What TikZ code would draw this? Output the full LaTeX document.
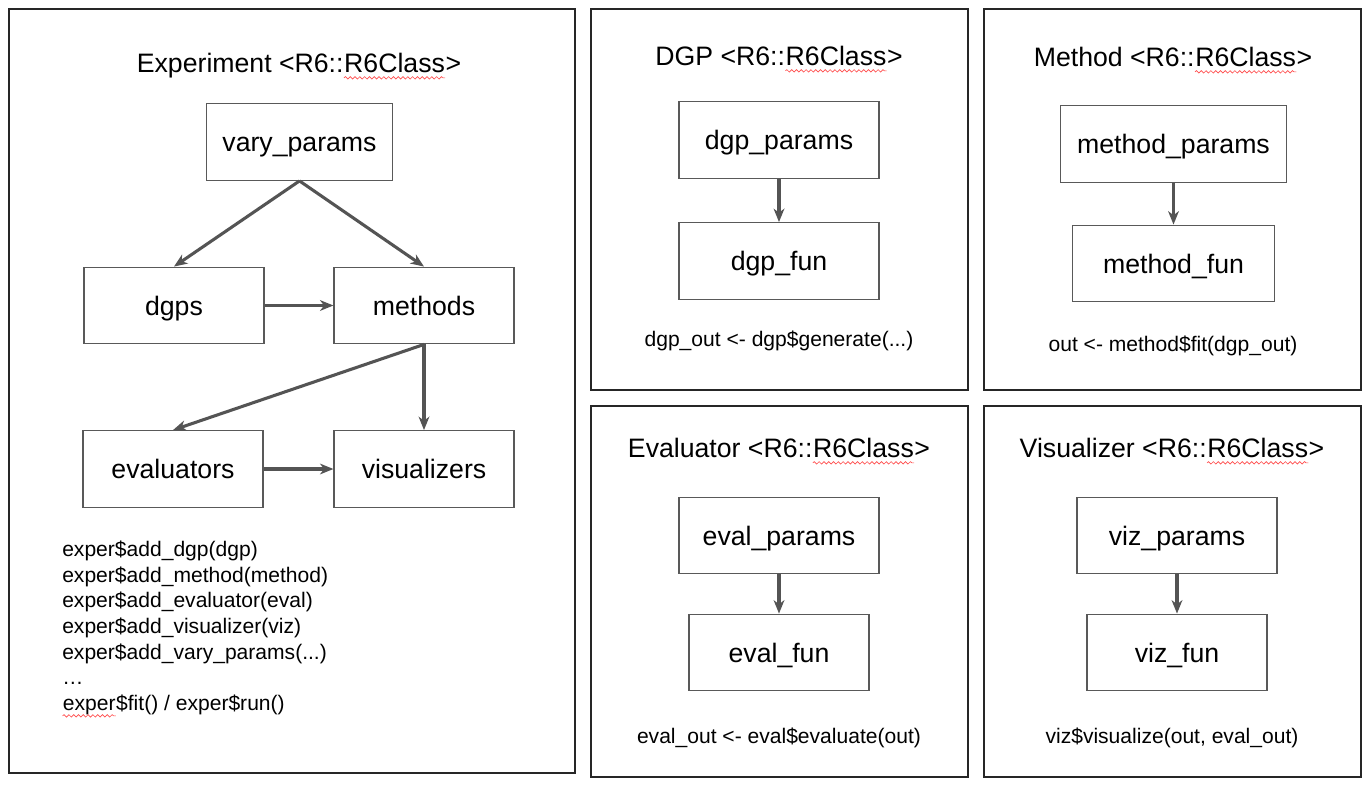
\documentclass[tikz,border=0pt]{standalone}
\usepackage{fontspec}
\setmainfont{Liberation Sans}
\usetikzlibrary{arrows.meta,positioning,decorations.pathmorphing}

% red spell-check wave under a word
\newcommand{\squig}[1]{\tikz[baseline=(sqw.base)]{\node[inner sep=0pt] (sqw) {#1};
  \draw[red!70!white, line width=0.5pt, decorate,
    decoration={snake, amplitude=0.9pt, segment length=3.6pt}]
    ([yshift=-4pt]sqw.base west) -- ([yshift=-4pt]sqw.base east);}}

\begin{document}
\begin{tikzpicture}[x=0.75pt, y=-0.75pt,
  panel/.style={draw=black!85, line width=2.2pt},
  box/.style={draw=black!65, line width=0.9pt, minimum height=57.5pt,
    minimum width=135pt, inner sep=0pt, text height=16.6pt, text depth=1.9pt,
    font=\fontsize{20}{24}\selectfont},
  title/.style={anchor=base, inner sep=0pt, font=\fontsize{20}{24}\selectfont},
  code/.style={anchor=base, inner sep=0pt, font=\fontsize{15.8}{19}\selectfont},
  arr/.style={draw=black!67, line width=2.3pt,
    -{Stealth[length=10pt, width=8pt, inset=3pt]}},
  arrs/.style={arr, line width=2.3pt}]
  \useasboundingbox[fill=white] (0,0) rectangle (1371,785);

  % panels
  \draw[panel] (9,9) rectangle (575,773);
  \draw[panel] (591,9) rectangle (968,390);
  \draw[panel] (984,9) rectangle (1361,390);
  \draw[panel] (591,406) rectangle (968,777);
  \draw[panel] (984,406) rectangle (1361,777);

  % Experiment
  \node[title] (exptitle) at (299,72.5) {Experiment <R6::\squig{R6Class}>};
  \node[box, minimum width=139pt] (vary) at (299.5,142) {vary\_params};
  \node[box] (dgps) at (174,305.5) {dgps};
  \node[box] (methods) at (424,305.5) {methods};
  \node[box] (evals) at (173,469) {evaluators};
  \node[box] (vizs) at (424,469) {visualizers};
  \draw[arr] (vary.south) -- (dgps.north);
  \draw[arr] (vary.south) -- (methods.north);
  \draw[arr] (dgps) -- (methods);
  \draw[arr] (methods.south) -- (evals.north);
  \draw[arr] (methods.south) -- (vizs.north);
  \draw[arr] (evals) -- (vizs);
  \node[code, anchor=base west] (code1) at (62,556.5) {exper\$add\_dgp(dgp)};
  \node[code, anchor=base west] (code2) at (62,582.2) {exper\$add\_method(method)};
  \node[code, anchor=base west] (code3) at (62,607.8) {exper\$add\_evaluator(eval)};
  \node[code, anchor=base west] (code4) at (62,633.5) {exper\$add\_visualizer(viz)};
  \node[code, anchor=base west] (code5) at (62,659.2) {exper\$add\_vary\_params(...)};
  \node[code, anchor=base west] (code6) at (62,684.8) {…};
  \node[code, anchor=base west] (code7) at (62,710.5) {\squig{exper}\$fit() / exper\$run()};

  % DGP
  \node[title] (dgptitle) at (779,65.5) {DGP <R6::\squig{R6Class}>};
  \node[box, minimum width=150pt] (dgpparams) at (779,140) {dgp\_params};
  \node[box, minimum width=150pt] (dgpfun) at (779,261) {dgp\_fun};
  \draw[arrs] (dgpparams) -- (dgpfun);
  \node[code] (dgpout) at (779,346) {dgp\_out <- dgp\$generate(...)};

  % Method
  \node[title] (methtitle) at (1173,66.5) {Method <R6::\squig{R6Class}>};
  \node[box, minimum width=170pt] (methparams) at (1173.5,144) {method\_params};
  \node[box, minimum width=152pt] (methfun) at (1173.5,263.5) {method\_fun};
  \draw[arrs] (methparams) -- (methfun);
  \node[code] (methout) at (1173,351) {out <- method\$fit(dgp\_out)};

  % Evaluator
  \node[title] (evaltitle) at (779,457.5) {Evaluator <R6::\squig{R6Class}>};
  \node[box, minimum width=150pt] (evalparams) at (779,535.5) {eval\_params};
  \node[box] (evalfun) at (779,652.5) {eval\_fun};
  \draw[arrs] (evalparams) -- (evalfun);
  \node[code] (evalout) at (779,743) {eval\_out <- eval\$evaluate(out)};

  % Visualizer
  \node[title] (viztitle) at (1172,457.5) {Visualizer <R6::\squig{R6Class}>};
  \node[box, minimum width=150pt] (vizparams) at (1177,535.5) {viz\_params};
  \node[box] (vizfun) at (1177,652.5) {viz\_fun};
  \draw[arrs] (vizparams) -- (vizfun);
  \node[code] (vizout) at (1172,743) {viz\$visualize(out, eval\_out)};
\end{tikzpicture}
\end{document}
